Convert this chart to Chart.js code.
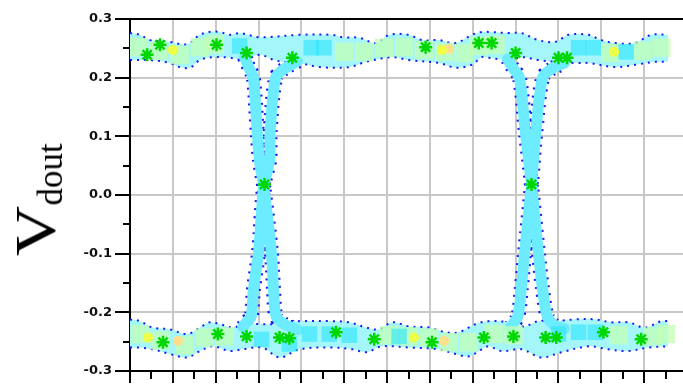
<!DOCTYPE html>
<html><head><meta charset="utf-8">
<script src="https://cdn.jsdelivr.net/npm/chart.js@4.4.1/dist/chart.umd.min.js"></script>
<style>
html,body{margin:0;padding:0;overflow:hidden;background:#fff;width:683px;height:384px;}
#wrap{position:relative;width:700px;height:384px;}
#ylab{position:absolute;left:36px;top:200px;transform:translate(-50%,-50%) rotate(-90deg);font-family:"Liberation Serif","Times New Roman",serif;font-size:58px;line-height:60px;white-space:nowrap;color:#000;}
#ylab .v{display:inline-block;transform:scaleX(1.2);transform-origin:right center;margin-left:9px;}
#ylab .s{font-size:35px;line-height:0;position:relative;top:7px;}
</style></head>
<body><div id="wrap"><canvas id="c" width="700" height="384"></canvas><div id="ylab"><span class="v">V</span><span class="s">dout</span></div></div>
<script>
// Axis ranges
const xRange = [0, 13];
const yRange = [-0.3, 0.3];

// Upper level band: top and bottom envelopes
const upperTopX = [0,0.23,0.47,0.93,1.33,1.63,1.86,2.09,2.33,2.56,3.02,3.95,4.72,4.95,5.35,5.74,6.05,6.51,6.81,7.21,7.60,7.98,8.21,8.37,8.84,9.14,9.53,9.93,10.23,10.70,11.00,11.33,11.79,12.16,12.56];
const upperTopY = [0.276,0.273,0.264,0.261,0.257,0.273,0.278,0.278,0.273,0.276,0.269,0.273,0.273,0.269,0.268,0.259,0.273,0.273,0.264,0.264,0.259,0.273,0.278,0.278,0.276,0.276,0.264,0.261,0.273,0.273,0.264,0.259,0.259,0.273,0.273];
const upperBotX = [0,0.47,0.93,1.16,1.40,1.63,1.93,2.33,2.67,3.02,3.37,3.72,3.95,4.42,5.12,5.51,6.12,6.51,7.21,7.60,7.98,8.21,8.37,8.84,9.14,9.53,9.93,10.40,10.70,11.33,11.79,12.26,12.56];
const upperBotY = [0.230,0.230,0.225,0.218,0.217,0.230,0.235,0.234,0.230,0.239,0.230,0.225,0.225,0.218,0.218,0.227,0.235,0.230,0.225,0.217,0.222,0.235,0.234,0.230,0.235,0.230,0.227,0.225,0.225,0.218,0.222,0.227,0.227];

// Lower level band
const lowerTopX = [0,0.23,0.53,0.93,1.33,1.63,1.86,2.09,2.40,2.67,3.02,3.37,3.72,3.95,4.72,5.12,5.51,5.81,6.12,6.51,6.98,7.37,7.67,8.07,8.37,8.84,9.19,9.53,9.93,10.40,10.86,11.23,11.63,12.02,12.40,12.56];
const lowerTopY = [-0.212,-0.215,-0.226,-0.229,-0.237,-0.226,-0.217,-0.220,-0.226,-0.220,-0.220,-0.220,-0.215,-0.215,-0.215,-0.217,-0.226,-0.229,-0.217,-0.224,-0.226,-0.234,-0.234,-0.220,-0.215,-0.217,-0.224,-0.215,-0.215,-0.212,-0.212,-0.217,-0.217,-0.226,-0.215,-0.215];
const lowerBotX = [0,0.23,0.53,0.93,1.33,1.63,1.93,2.33,2.63,3.09,3.49,3.95,4.72,5.19,5.51,5.88,6.51,7.21,7.60,7.91,8.21,8.37,8.67,9.14,9.60,10.07,10.70,11.16,11.63,12.09,12.56];
const lowerBotY = [-0.260,-0.260,-0.263,-0.271,-0.277,-0.266,-0.258,-0.266,-0.263,-0.260,-0.277,-0.263,-0.260,-0.263,-0.268,-0.258,-0.260,-0.263,-0.271,-0.275,-0.263,-0.258,-0.266,-0.263,-0.277,-0.268,-0.258,-0.263,-0.266,-0.260,-0.258];

// Transitions (centre lines of the edge traces)
const fall1X = [2.67,2.79,2.88,2.97,3.02,3.12,3.30,3.35,3.41,3.60,3.91];
const fall1Y = [0.235,0.215,0.200,0.106,0.060,0.015,-0.098,-0.161,-0.207,-0.220,-0.230];
const rise1X = [2.63,2.74,2.83,2.88,3.00,3.12,3.26,3.27,3.40,3.60,3.91];
const rise1Y = [-0.225,-0.215,-0.207,-0.161,-0.098,0.015,0.060,0.106,0.200,0.215,0.228];
const fall2X = [8.81,8.95,9.09,9.23,9.37,9.53,9.63,9.74,9.91,10.14];
const fall2Y = [0.232,0.215,0.200,0.106,0.018,-0.098,-0.161,-0.207,-0.222,-0.228];
const rise2X = [8.88,9.05,9.13,9.21,9.37,9.47,9.63,9.84,10.14];
const rise2Y = [-0.225,-0.207,-0.161,-0.098,0.018,0.106,0.200,0.215,0.225];

// Density patches
const paleX = [0.19,0.65,1.16,1.63,1.98,5.00,5.47,5.93,6.40,6.86,7.33,7.79,8.14,8.53,11.21,11.95,12.40,
               0.23,0.70,1.28,1.74,2.21,6.05,6.51,6.98,7.44,7.91,8.49,8.95,11.40,12.21,12.51];
const paleY = [0.252,0.246,0.239,0.252,0.257,0.244,0.244,0.251,0.252,0.247,0.244,0.242,0.254,0.256,0.242,0.246,0.251,
               -0.237,-0.248,-0.256,-0.243,-0.241,-0.239,-0.241,-0.243,-0.251,-0.251,-0.237,-0.239,-0.239,-0.241,-0.237];
const cyanX = [2.56,4.23,4.53,10.47,10.81,11.58, 3.07,3.72,4.19,4.65,5.12,6.28,10.00,10.47,10.86];
const cyanY = [0.254,0.251,0.251,0.251,0.251,0.244, -0.246,-0.254,-0.237,-0.237,-0.239,-0.241,-0.237,-0.234,-0.234];
const yellowX = [1.00,7.28,11.30,0.42,6.63];
const yellowY = [0.247,0.247,0.244,-0.243,-0.243];
const orangeX = [7.45,1.12,7.33];
const orangeY = [0.249,-0.249,-0.249];
const starX = [0.70,0.40,2.02,2.72,3.79,6.90,8.14,8.44,9.00,10.00,10.20, 3.14,9.37,
               0.77,2.05,2.72,3.49,3.72,4.81,5.70,7.05,8.26,8.95,9.70,9.95,11.05,11.93];
const starY = [0.256,0.239,0.256,0.242,0.234,0.252,0.259,0.259,0.242,0.234,0.234, 0.018,0.018,
               -0.251,-0.237,-0.241,-0.243,-0.244,-0.234,-0.246,-0.251,-0.243,-0.241,-0.243,-0.243,-0.234,-0.246];

const pts = (xs, ys) => xs.map((x, i) => ({x, y: ys[i]}));

const BLUE = '#1c1cf0';
const BAND = 'rgb(165,246,250)';
const STRIP = 'rgb(110,236,255)';

function edge(xs, ys, extra) {
  return Object.assign({data: pts(xs, ys), borderColor: BLUE, borderWidth: 2, borderDash: [2, 5],
    borderCapStyle: 'butt', pointRadius: 0, tension: 0.35, fill: false, order: 40}, extra || {});
}
function stripUnder(xs, ys) {
  return {data: pts(xs, ys), borderColor: BLUE, borderWidth: 15, borderDash: [2, 6], borderCapStyle: 'butt',
    pointRadius: 0, tension: 0.3, fill: false, order: 50};
}
function stripTop(xs, ys) {
  return {data: pts(xs, ys), borderColor: STRIP, borderWidth: 11, borderCapStyle: 'round', borderJoinStyle: 'round',
    pointRadius: 0, tension: 0.3, fill: false, order: 30};
}
function dots(xs, ys, style, r, color, extra) {
  return Object.assign({data: pts(xs, ys), showLine: false, pointStyle: style, pointRadius: r,
    backgroundColor: color, borderColor: color, borderWidth: 0, order: 20}, extra || {});
}

const datasets = [
  edge(upperTopX, upperTopY),                                   // 0
  edge(upperBotX, upperBotY, {fill: 0, backgroundColor: BAND}), // 1
  edge(lowerTopX, lowerTopY),                                   // 2
  edge(lowerBotX, lowerBotY, {fill: 2, backgroundColor: BAND}), // 3
  stripUnder(fall1X, fall1Y), stripUnder(rise1X, rise1Y),
  stripUnder(fall2X, fall2Y), stripUnder(rise2X, rise2Y),
  stripTop(fall1X, fall1Y), stripTop(rise1X, rise1Y),
  stripTop(fall2X, fall2Y), stripTop(rise2X, rise2Y),
  dots(paleX, paleY, 'rect', 13, 'rgba(195,255,180,0.75)', {order: 22}),
  dots(cyanX, cyanY, 'rect', 11, 'rgba(40,228,255,0.6)', {order: 21}),
  dots(yellowX, yellowY, 'circle', 5, 'rgb(238,255,70)', {order: 15}),
  dots(orangeX, orangeY, 'circle', 5, 'rgb(255,222,140)', {order: 15}),
  dots(starX, starY, 'star', 6.5, 'rgb(0,215,0)', {borderWidth: 2.5, order: 10})
];

const isMajorY = v => Math.round(v * 100) % 10 === 0;
const isMajorX = v => Math.abs(v - Math.round(v)) < 1e-6;

new Chart(document.getElementById('c'), {
  type: 'line',
  data: {datasets},
  options: {
    responsive: false, animation: false, events: [],
    layout: {padding: {left: 0, top: 19, right: 11, bottom: 0}},
    plugins: {legend: {display: false}, tooltip: {enabled: false}},
    scales: {
      x: {
        type: 'linear', min: xRange[0], max: xRange[1],
        ticks: {display: false, stepSize: 0.5, autoSkip: false},
        border: {display: true, color: '#000', width: 2},
        grid: {
          color: c => (c.tick && isMajorX(c.tick.value)) ? 'rgb(200,200,200)' : 'rgba(0,0,0,0)',
          lineWidth: 2, tickLength: 12, tickColor: '#000', tickWidth: 2,
          tickBorderDash: c => (c.tick && isMajorX(c.tick.value)) ? [] : [7, 100]
        }
      },
      y: {
        type: 'linear', min: yRange[0], max: yRange[1],
        afterFit: s => { s.width = 130; },
        ticks: {
          stepSize: 0.05, autoSkip: false, padding: 3, color: '#111',
          font: {family: 'DejaVu Sans', size: 13, weight: 'bold'},
          callback: v => isMajorY(v) ? (Math.abs(v) < 1e-9 ? '0.0' : v.toFixed(1)) : ''
        },
        border: {display: true, color: '#000', width: 2},
        grid: {
          color: c => {
            if (!c.tick) return 'rgb(200,200,200)';
            const k = Math.round(c.tick.value * 100);
            if (k === 30) return '#000';
            return k % 10 === 0 ? 'rgb(200,200,200)' : 'rgba(0,0,0,0)';
          },
          lineWidth: 2, tickLength: 15, tickColor: '#000', tickWidth: 2,
          tickBorderDash: c => (c.tick && isMajorY(c.tick.value)) ? [] : [0, 8, 7, 100]
        }
      }
    }
  }
});
</script>
</body></html>
